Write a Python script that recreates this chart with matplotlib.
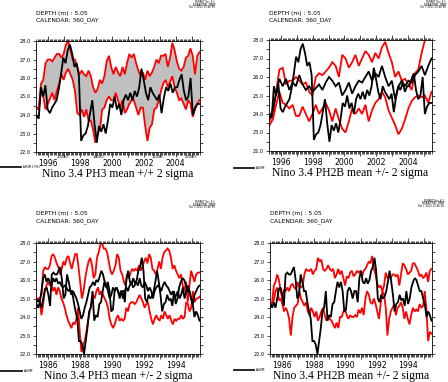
import matplotlib.pyplot as plt
import numpy as np
from matplotlib.lines import Line2D

# Nino 3.4 SST (deg C)
assim_9505 = [24.0, 23.8, 25.5, 25.0, 25.6, 24.3, 24.1, 24.4, 24.6, 24.8,
              25.4, 26.2, 27.1, 26.8, 27.5, 27.8, 27.3, 26.6, 26.8, 26.1,
              22.6, 22.9, 23.0, 23.4, 24.1, 24.8, 23.5, 22.5, 23.4, 23.1,
              23.5, 23.0, 23.7, 24.6, 24.4, 25.0, 24.3, 24.6, 24.0, 24.8,
              25.1, 24.8, 25.2, 24.8, 25.3, 25.0, 25.5, 26.5, 25.9, 25.2,
              24.8, 25.5, 25.2, 25.0, 24.8, 25.1, 24.1, 24.9, 25.5, 25.3,
              25.7, 25.2, 25.5, 25.5, 25.9, 26.2, 25.3, 24.8, 25.0, 26.0,
              24.0, 24.4, 24.6, 24.6]
ph3_hi_9505 = [24.4, 24.3, 25.7, 25.9, 26.8, 27.0, 27.0, 26.9, 27.1, 27.3,
               27.3, 27.1, 27.3, 27.8, 28.0, 27.5, 27.0, 27.0, 26.6, 26.2,
               26.4, 26.2, 26.1, 26.4, 26.1, 25.5, 25.2, 25.4, 25.9, 25.7,
               26.1, 26.9, 27.2, 26.6, 26.2, 26.6, 26.3, 26.1, 26.6, 26.2,
               26.8, 27.3, 27.1, 27.3, 26.8, 26.4, 26.1, 26.3, 25.9, 26.4,
               26.1, 26.3, 26.6, 27.0, 26.8, 27.2, 27.2, 27.3, 26.6, 27.1,
               27.9, 27.5, 26.9, 26.5, 26.4, 26.6, 27.1, 27.2, 27.6, 27.2,
               26.2, 27.2, 27.4]
ph3_lo_9505 = [24.4, 24.3, 25.3, 25.0, 24.3, 24.6, 24.9, 25.2, 24.8, 25.3,
               25.7, 26.2, 25.9, 26.3, 26.5, 26.2, 25.9, 25.3, 24.1, 24.0,
               24.3, 23.9, 24.3, 23.7, 23.7, 23.2, 22.5, 23.0, 23.2, 24.3,
               24.4, 24.8, 25.0, 24.8, 24.8, 25.2, 24.8, 24.4, 24.8, 24.1,
               24.3, 24.6, 24.8, 24.8, 24.4, 24.0, 24.4, 24.4, 23.4, 22.6,
               23.3, 23.5, 24.3, 24.4, 24.8, 25.3, 25.7, 25.9, 25.5, 25.8,
               26.1, 25.5, 25.2, 24.8, 24.9, 24.6, 24.3, 24.8, 24.6, 23.9,
               24.3, 24.6, 24.8]
ph2b_hi_9505 = [23.6, 24.0, 25.2, 26.4, 26.5, 25.6, 25.8, 25.8, 26.0, 25.8,
                25.6, 25.7, 25.2, 25.0, 26.0, 26.2, 26.1, 26.3, 26.5, 26.8,
                26.6, 26.0, 27.2, 27.0, 26.5, 26.8, 27.2, 26.6, 27.0, 27.4,
                27.2, 26.8, 27.3, 27.0, 27.6, 27.9, 27.3, 26.8, 26.0, 26.3,
                25.8, 25.9, 25.6, 25.3, 26.2, 26.4, 27.3, 28.0, 28.3, 28.4]
ph2b_lo_9505 = [23.4, 23.7, 24.5, 25.2, 24.6, 24.5, 24.3, 24.5, 23.9, 23.9,
                24.4, 24.0, 23.6, 24.0, 24.5, 24.0, 24.3, 24.6, 24.2, 23.6,
                24.3, 23.7, 23.2, 23.0, 23.6, 24.3, 24.0, 24.3, 24.0, 24.5,
                23.6, 24.2, 24.6, 24.8, 25.2, 24.9, 24.2, 23.8, 23.4, 22.9,
                23.2, 23.7, 24.3, 24.7, 24.9, 25.0, 24.9, 25.0, 24.6, 25.2]
ph2b_mean_9505 = [23.8, 24.2, 25.1, 25.9, 25.5, 25.9, 25.3, 25.7, 25.5, 26.1,
                  25.6, 25.3, 25.5, 25.2, 25.4, 25.6, 25.3, 25.7, 26.0, 25.8,
                  25.5, 25.7, 25.0, 25.3, 25.7, 25.1, 25.5, 25.8, 25.7, 26.0,
                  26.3, 25.8, 26.2, 26.0, 26.6, 26.0, 25.5, 25.8, 24.8, 25.5,
                  25.8, 25.5, 25.8, 25.7, 26.1, 26.3, 26.6, 26.1, 26.6, 27.0]

assim_8595 = [24.7, 24.5, 24.8, 24.5, 25.0, 25.5, 25.6, 25.2, 24.6, 26.3,
              26.4, 26.3, 26.3, 26.5, 26.7, 26.0, 25.0, 25.2, 26.3, 25.9,
              25.4, 25.4, 24.8, 24.3, 23.9, 22.7, 22.7, 22.5, 22.0, 22.7,
              23.4, 24.3, 24.5, 25.4, 23.8, 24.1, 24.0, 24.7, 24.8, 25.4,
              25.9, 25.6, 25.9, 25.4, 24.3, 24.4, 25.4, 25.6, 25.4, 25.0,
              25.4, 25.4, 24.8, 26.1, 26.5, 25.9, 25.8, 26.1, 25.8, 26.0,
              26.5, 26.7, 27.2, 26.5, 25.0, 24.8, 25.2, 25.0, 25.1, 25.4,
              25.9, 26.5, 25.9, 25.2, 24.3, 24.7, 24.8, 25.2, 24.9, 25.0,
              24.6, 25.4, 24.7, 25.0, 25.6, 25.9, 26.1, 26.0, 25.7, 25.4,
              25.4, 25.0, 24.7, 24.0, 24.3, 24.1, 23.8]
ph3_hi_8595 = [25.0, 25.0, 25.0, 25.2, 26.5, 26.7, 26.6, 26.6, 26.8, 27.3,
               27.4, 27.2, 26.9, 26.7, 26.3, 26.6, 27.0, 26.8, 27.2, 27.3,
               26.9, 26.6, 27.0, 27.4, 27.4, 26.7, 25.9, 25.0, 25.4, 26.1,
               26.6, 27.0, 27.2, 26.8, 26.1, 26.3, 27.2, 27.5, 27.9, 28.0,
               27.7, 27.7, 27.5, 27.0, 26.5, 26.3, 26.5, 26.8, 27.4, 27.2,
               26.5, 26.3, 25.9, 25.7, 26.3, 26.1, 26.4, 26.6, 26.5, 26.6,
               26.5, 26.8, 26.5, 26.7, 27.0, 27.2, 26.9, 27.4, 27.2, 26.6,
               26.5, 26.3, 26.6, 27.0, 26.6, 27.2, 27.5, 27.6, 27.7, 27.6,
               27.2, 26.6, 26.8, 26.5, 26.3, 26.1, 26.3, 25.7, 25.4, 25.9,
               24.8, 25.7, 26.5, 26.2, 25.9, 26.3, 26.4, 26.4]
ph3_lo_8595 = [24.9, 25.0, 24.8, 24.1, 24.7, 25.4, 25.7, 25.9, 25.7, 25.8,
               25.4, 25.6, 25.2, 25.6, 25.4, 25.0, 24.8, 24.5, 24.1, 23.8,
               23.6, 23.4, 23.7, 23.6, 23.9, 24.5, 23.2, 22.1, 22.5, 22.7,
               23.2, 23.8, 24.3, 24.7, 25.2, 25.0, 25.4, 25.6, 25.2, 25.4,
               25.2, 25.0, 24.8, 24.5, 23.9, 23.6, 23.4, 23.6, 23.9, 24.1,
               23.8, 23.9, 23.8, 23.9, 24.5, 24.3, 24.7, 24.8, 24.8, 24.7,
               24.8, 25.0, 25.2, 25.0, 24.8, 24.5, 24.7, 24.8, 24.3, 23.9,
               23.6, 23.9, 24.1, 23.9, 23.8, 24.1, 23.9, 24.3, 24.1, 23.9,
               24.1, 23.8, 23.6, 23.9, 23.8, 23.9, 23.9, 24.1, 23.9, 24.0,
               24.8, 24.7, 24.3, 24.5, 25.4, 24.8, 25.0, 25.0, 25.1]
ph3_mean_8595 = [24.8, 24.9, 24.8, 25.4, 26.1, 26.3, 25.9, 26.1, 25.9, 25.7,
                 26.1, 25.9, 26.1, 25.8, 25.9, 25.7, 25.6, 25.7, 25.6, 25.4,
                 25.5, 25.2, 25.4, 25.2, 25.0, 24.7, 24.3, 23.9, 24.1, 24.5,
                 24.8, 25.2, 25.6, 25.7, 25.9, 25.7, 26.0, 25.9, 26.2, 26.5,
                 26.3, 25.9, 25.7, 25.4, 25.0, 25.2, 25.6, 25.4, 25.6, 25.4,
                 25.2, 25.4, 25.0, 25.4, 25.6, 25.4, 25.7, 25.9, 25.6, 25.7,
                 25.9, 25.7, 26.1, 25.7, 25.6, 25.9, 25.7, 25.4, 25.6, 25.4,
                 25.0, 25.4, 25.6, 25.7, 25.6, 25.4, 25.7, 25.9, 25.7, 25.6,
                 25.4, 25.2, 25.4, 25.0, 25.2, 25.4, 25.0, 25.2, 25.6, 25.0,
                 25.4, 25.7, 25.4, 25.0, 24.7, 25.2, 25.4, 25.6, 25.7]
ph2b_hi_8595 = [24.6, 24.8, 25.7, 25.9, 26.3, 26.0, 25.4, 25.0, 25.5, 25.4,
                25.6, 25.4, 25.7, 25.8, 25.6, 25.5, 25.9, 25.6, 25.6, 25.7,
                26.3, 26.6, 26.5, 26.5, 26.6, 26.3, 26.5, 26.6, 27.2, 27.0,
                27.1, 26.6, 26.5, 26.6, 26.8, 26.6, 26.5, 26.6, 26.1, 26.3,
                26.6, 26.3, 26.5, 26.1, 25.7, 26.2, 26.1, 26.4, 26.5, 26.2,
                26.3, 26.5, 26.4, 26.5, 26.2, 26.5, 26.6, 26.8, 27.0, 26.9,
                27.3, 26.6, 26.3, 25.8, 25.6, 25.7, 25.4, 25.7, 26.4, 26.1,
                26.2, 26.1, 26.3, 26.3, 26.2, 26.3, 25.7, 26.3, 26.9, 26.8,
                26.6, 26.3, 26.4, 26.5, 26.9, 26.9, 26.7, 26.5, 26.2, 26.3,
                26.1, 26.2, 26.4, 25.9, 26.5, 26.6]
ph2b_lo_8595 = [24.6, 24.8, 24.9, 25.4, 25.6, 24.9, 25.0, 24.7, 24.3, 24.5,
                24.3, 23.9, 23.0, 24.0, 24.5, 24.6, 24.7, 25.4, 25.0, 24.8,
                24.6, 24.8, 24.3, 24.1, 24.5, 24.3, 24.0, 24.3, 23.8, 24.0,
                24.3, 24.5, 24.1, 23.8, 24.0, 23.9, 23.8, 23.6, 23.4, 23.7,
                23.4, 24.0, 24.0, 24.3, 24.4, 24.1, 23.9, 24.1, 24.0, 24.0,
                24.1, 24.0, 24.4, 24.2, 24.5, 24.1, 25.0, 25.4, 25.2, 24.8,
                24.7, 25.0, 24.7, 24.3, 23.9, 24.7, 25.4, 25.2, 24.5, 23.0,
                23.9, 24.3, 24.5, 24.7, 24.1, 24.5, 24.6, 24.8, 24.5, 23.9,
                24.3, 23.9, 23.6, 24.1, 24.5, 24.3, 24.4, 24.3, 24.7, 24.5,
                24.6, 25.4, 24.4, 22.7, 23.2, 23.1]

RED = '#ff0000'
GREY = '#c0c0c0'
SPAN = 10.3   # years shown on each time axis

plt.rcParams['font.family'] = 'DejaVu Sans'
fig = plt.figure(figsize=(4.48, 3.82), dpi=100)


def fx(px):
    return px / 448


def fy(py):
    return 1 - py / 382


def times(t0, vals):
    return np.linspace(t0 + 0.03, t0 + SPAN - 0.03, len(vals))


def panel(left, top, width, t0, first_label, title, lines, band=None):
    ax = fig.add_axes([fx(left), fy(top + 111), fx(width), 111 / 382])
    if band is not None:
        lo, hi = band
        ax.fill_between(times(t0, hi), lo, hi, color=GREY, lw=0)
    for vals, col in lines:
        ax.plot(times(t0, vals), vals, color=col, lw=1.3, solid_joinstyle='miter')
    ax.set_xlim(t0, t0 + SPAN)
    ax.set_ylim(22, 28)
    years = np.arange(int(t0) + 1, int(t0 + SPAN) + 1)
    ax.set_xticks(years)
    ax.set_xticklabels([str(y) if (y - first_label) % 2 == 0 else '' for y in years],
                       fontsize=5.6)
    ax.set_xticks(np.arange(np.ceil(t0 * 12) / 12, t0 + SPAN, 1 / 12), minor=True)
    ax.set_yticks(np.arange(22, 28.01, 1.0))
    ax.set_yticks(np.arange(22, 28.01, 0.5), minor=True)
    ax.set_yticklabels(['%.1f' % v for v in np.arange(22, 28.01, 1.0)], fontsize=3.6)
    ax.tick_params(which='both', direction='out', top=True, right=True, width=0.5,
                   pad=1.5)
    ax.tick_params(axis='x', which='major', length=3.5)
    ax.tick_params(axis='x', which='minor', length=1.8)
    ax.tick_params(axis='y', which='both', length=2.2)
    for s in ax.spines.values():
        s.set_linewidth(0.6)
    fig.text(fx(left + width / 2), fy(top + 133), title, ha='center', va='center',
             family='Liberation Serif', fontsize=8.4)
    return ax


def header(x, y):
    fig.text(fx(x), fy(y), 'DEPTH (m) : 5.05', fontsize=4.3, va='center')
    fig.text(fx(x), fy(y + 7), 'CALENDAR: 360_DAY', fontsize=4.3, va='center')


def stamp(x, y):
    for i, s in enumerate(['FERRET Ver. 6.1', 'NOAA/PMEL TMAP', 'Oct 7 2013 13:46:38']):
        fig.text(fx(x), fy(y + 2.5 * i), s, fontsize=1.8, ha='right', va='center')


def key(x0, x1, y, label, size=2.2):
    fig.add_artist(Line2D([fx(x0), fx(x1)], [fy(y), fy(y)], color='k', lw=1.2))
    fig.text(fx(x1 + 1.5), fy(y), label, fontsize=size, va='center')


# top left: PH3 1995-2005 with shaded band
panel(36, 41, 164, 1995.23, 1996, 'Nino 3.4 PH3 mean +/+ 2 sigma',
      [(ph3_hi_9505, RED), (ph3_lo_9505, RED), (assim_9505, 'k')],
      band=(ph3_lo_9505, ph3_hi_9505))
header(36, 13)
stamp(215, 2)
key(0, 21, 167, 'ASSIM.1 PH3', size=1.9)
# stray labels left over from an overlaid plot
for x, s in [(56.5, '20000.'), (93, '18000.'), (152, '16000.'), (184.5, '20000.')]:
    fig.text(fx(x), fy(157), s, fontsize=2.6, va='center')

# top right: PH2B 1995-2005
panel(269, 40, 163, 1995.23, 1996, 'Nino 3.4 PH2B mean +/- 2 sigma',
      [(ph2b_hi_9505, RED), (ph2b_lo_9505, RED), (ph2b_mean_9505, 'k'),
       (assim_9505, 'k')])
header(269, 13)
stamp(446, 2)
key(234, 254, 168, 'ASSIM')

# bottom left: PH3 1985-1995
panel(36, 243, 164, 1985.23, 1986, 'Nino 3.4 PH3 mean +/- 2 sigma',
      [(ph3_hi_8595, RED), (ph3_lo_8595, RED), (ph3_mean_8595, 'k'),
       (assim_8595, 'k')])
header(36, 214)
stamp(215, 202)
key(0, 22, 371, 'ASSIM')

# bottom right: PH2B 1985-1995
panel(270, 243, 162, 1985.23, 1986, 'Nino 3.4 PH2B mean +/- 2 sigma',
      [(ph2b_hi_8595, RED), (ph2b_lo_8595, RED), (assim_8595, 'k')])
header(270, 214)
stamp(444, 201)
key(234, 254, 370, 'ASSIM')

fig.savefig('out.png', dpi=100)
